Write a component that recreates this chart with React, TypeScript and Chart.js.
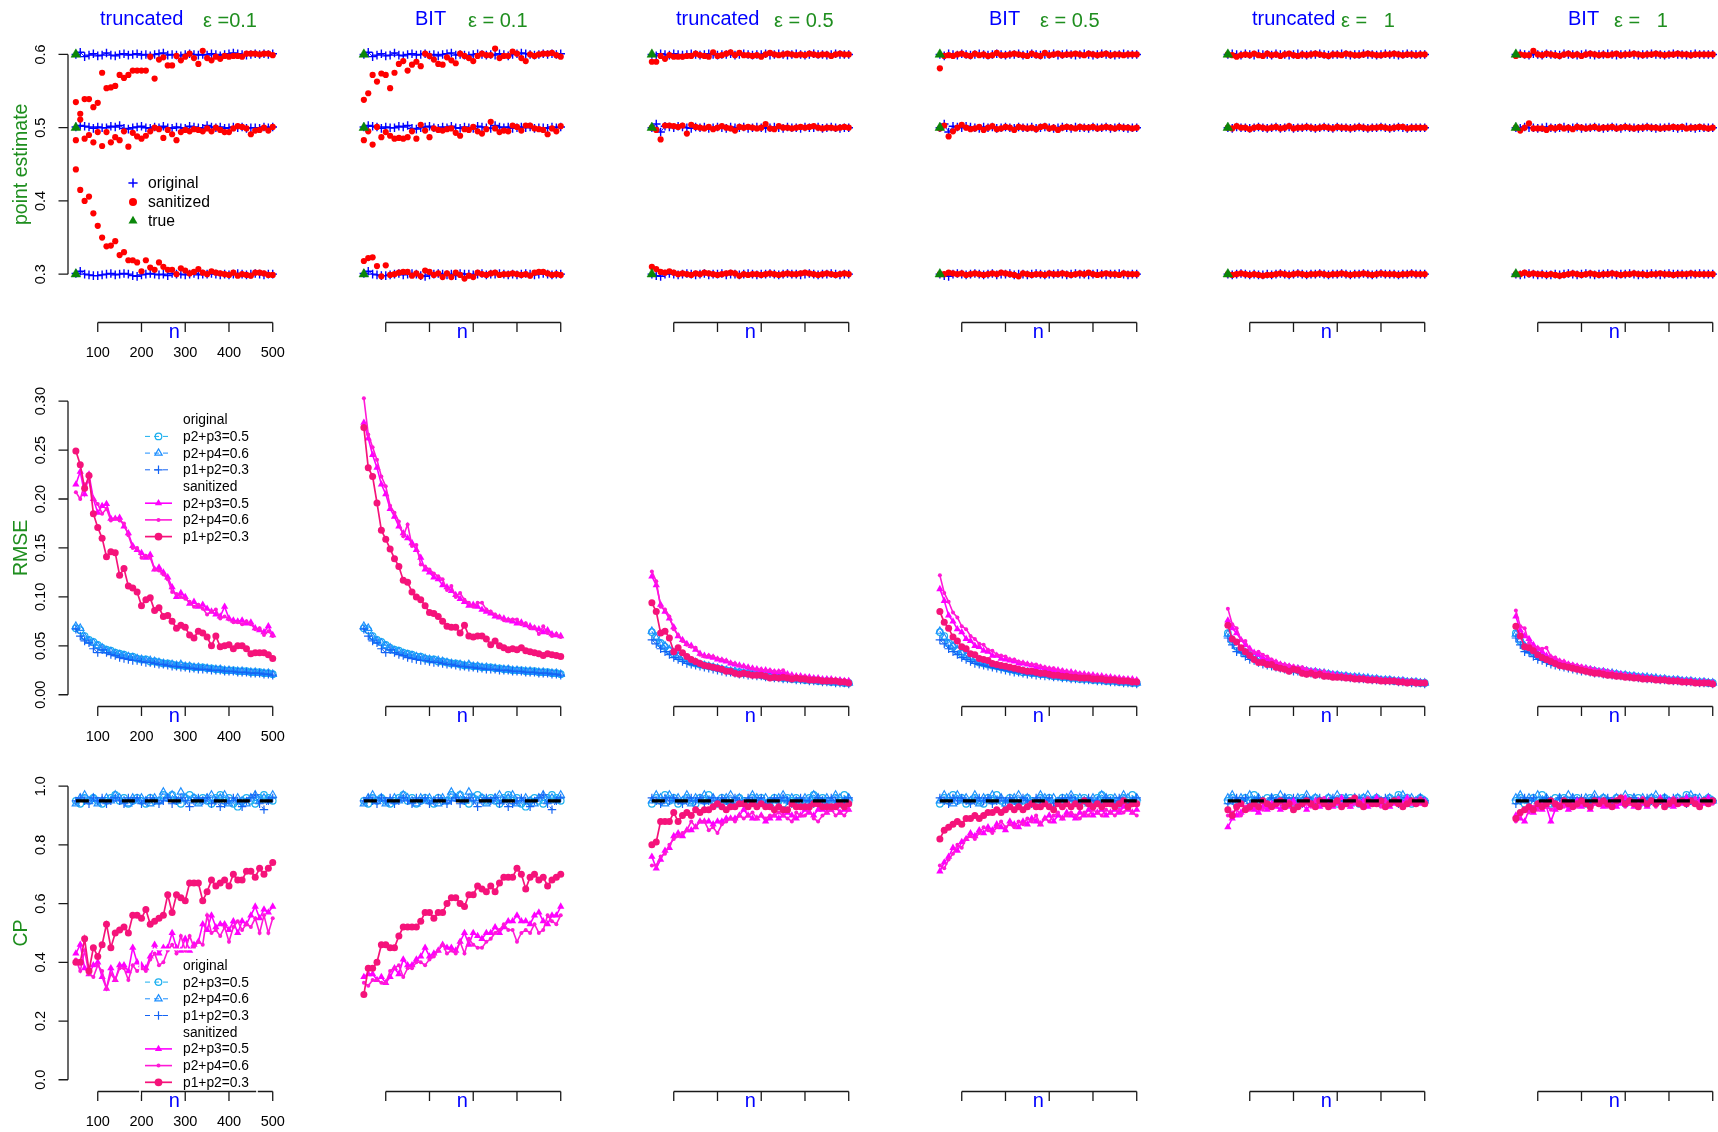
import React, { useEffect, useRef } from "react";
import { Chart, registerables } from "chart.js";
Chart.register(...registerables);

// ---------------- categories / ticks ----------------
const nValues = [50, 60, 70, 80, 90, 100, 110, 120, 130, 140, 150, 160, 170, 180, 190, 200, 210, 220, 230, 240, 250, 260, 270, 280, 290, 300, 310, 320, 330, 340, 350, 360, 370, 380, 390, 400, 410, 420, 430, 440, 450, 460, 470, 480, 490, 500];
const xTickValues = [100, 200, 300, 400, 500];
const xTickLabels = ["100", "200", "300", "400", "500"];
const peTickValues = [0.3, 0.4, 0.5, 0.6];
const peTickLabels = ["0.3", "0.4", "0.5", "0.6"];
const rmseTickValues = [0, 0.05, 0.1, 0.15, 0.2, 0.25, 0.3];
const rmseTickLabels = ["0.00", "0.05", "0.10", "0.15", "0.20", "0.25", "0.30"];
const cpTickValues = [0, 0.2, 0.4, 0.6, 0.8, 1.0];
const cpTickLabels = ["0.0", "0.2", "0.4", "0.6", "0.8", "1.0"];
const methodLabels = ["truncated", "BIT", "truncated", "BIT", "truncated", "BIT"];
const epsLabels = ["\u03b5 =0.1", "\u03b5 = 0.1", "\u03b5 = 0.5", "\u03b5 = 0.5", "\u03b5 =   1", "\u03b5 =   1"];
const rowTitles = ["point estimate", "RMSE", "CP"];
const peLegendLabels = ["original", "sanitized", "true"];
const groupHeaders = ["original", "sanitized"];
const seriesLabels = ["p2+p3=0.5", "p2+p4=0.6", "p1+p2=0.3"];
const trueN = [50, 50, 50];
const trueValues = [0.3, 0.5, 0.6];
const nominalN = [50, 500];
const nominalCP = [0.95, 0.95];

// ---------------- point estimates: original (shared per epsilon) ----------------
const pe01_o6 = [.600,.603,.597,.599,.601,.598,.599,.602,.599,.598,
  .600,.601,.599,.600,.601,.599,.600,.598,.600,.601,
  .602,.599,.600,.599,.598,.600,.601,.600,.599,.600,
  .599,.601,.600,.598,.600,.601,.602,.601,.600,.599,
  .600,.601,.600,.601,.600,.601];
const pe01_o5 = [.501,.503,.502,.501,.499,.501,.500,.500,.502,.501,
  .503,.499,.498,.500,.501,.502,.500,.499,.501,.500,
  .502,.500,.499,.501,.500,.499,.502,.501,.500,.499,
  .503,.501,.500,.501,.499,.500,.501,.500,.501,.499,
  .500,.500,.499,.501,.500,.501];
const pe01_o3 = [.301,.304,.300,.299,.298,.298,.299,.300,.301,.299,
  .300,.301,.300,.298,.297,.299,.300,.301,.300,.299,
  .300,.298,.301,.300,.300,.299,.300,.301,.299,.300,
  .300,.301,.300,.299,.300,.299,.300,.301,.300,.299,
  .300,.301,.300,.299,.300,.300];
const pe05_o6 = [.600,.598,.601,.600,.599,.601,.600,.599,.600,.601,
  .600,.599,.600,.601,.600,.599,.600,.600,.601,.599,
  .600,.601,.600,.599,.600,.600,.601,.599,.600,.601,
  .600,.599,.600,.601,.600,.599,.600,.601,.600,.600,
  .599,.600,.601,.600,.600,.600];
const pe05_o5 = [.500,.505,.494,.502,.501,.500,.502,.501,.500,.499,
  .501,.500,.501,.499,.500,.501,.500,.499,.501,.500,
  .500,.501,.499,.500,.501,.500,.499,.500,.501,.500,
  .499,.501,.500,.500,.499,.501,.500,.500,.501,.499,
  .500,.501,.500,.499,.500,.500];
const pe05_o3 = [.300,.298,.297,.300,.301,.300,.299,.300,.301,.300,
  .299,.300,.301,.299,.300,.300,.301,.299,.300,.300,
  .299,.300,.301,.300,.299,.300,.300,.301,.300,.299,
  .300,.301,.300,.300,.299,.300,.301,.300,.299,.300,
  .300,.301,.300,.299,.300,.300];
const pe1_o6 = [.600,.601,.600,.599,.601,.600,.599,.601,.600,.600,
  .599,.601,.600,.600,.599,.600,.601,.600,.599,.600,
  .600,.601,.600,.599,.600,.600,.601,.600,.599,.600,
  .600,.601,.600,.600,.599,.600,.601,.600,.600,.599,
  .600,.601,.600,.600,.600,.600];
const pe1_o5 = [.500,.499,.501,.500,.500,.499,.500,.501,.500,.499,
  .500,.501,.499,.500,.501,.499,.500,.500,.501,.500,
  .499,.500,.501,.500,.499,.501,.500,.500,.499,.500,
  .501,.500,.499,.500,.500,.501,.500,.499,.500,.501,
  .500,.499,.500,.500,.500,.500];
const pe1_o3 = [.300,.299,.300,.301,.300,.299,.300,.299,.299,.300,
  .299,.300,.301,.300,.299,.300,.301,.300,.299,.300,
  .300,.301,.300,.299,.300,.300,.301,.300,.299,.300,
  .300,.301,.300,.299,.300,.301,.300,.300,.300,.299,
  .300,.300,.301,.300,.300,.300];

// ---------------- point estimates: sanitized ----------------
const peT01_s6 = [.535,.519,.539,.539,.528,.534,.575,.554,.555,.557,
  .572,.568,.572,.578,.578,.578,.578,.597,.567,.593,
  .596,.585,.585,.598,.592,.597,.601,.595,.587,.605,
  .595,.592,.597,.594,.598,.597,.598,.598,.597,.601,
  .601,.601,.600,.601,.601,.599];
const peT01_s5 = [.483,.511,.485,.490,.480,.494,.475,.494,.480,.487,
  .483,.495,.474,.493,.488,.485,.489,.495,.500,.498,
  .486,.497,.491,.483,.494,.497,.495,.498,.497,.495,
  .499,.495,.500,.497,.494,.494,.499,.502,.501,.499,
  .491,.496,.497,.500,.496,.501];
const peT01_s3 = [.443,.415,.400,.406,.383,.366,.350,.338,.339,.345,
  .326,.330,.319,.319,.316,.304,.319,.309,.306,.316,
  .310,.306,.306,.300,.308,.305,.301,.303,.307,.302,
  .300,.304,.302,.301,.300,.299,.302,.298,.300,.299,
  .298,.302,.302,.301,.299,.299];
const peB01_s6 = [.538,.547,.572,.563,.574,.572,.554,.575,.587,.591,
  .578,.586,.590,.584,.601,.598,.593,.587,.586,.596,
  .592,.588,.601,.598,.595,.591,.598,.601,.599,.599,
  .608,.595,.598,.598,.604,.601,.595,.591,.600,.598,
  .600,.601,.601,.602,.599,.597];
const peB01_s5 = [.483,.495,.477,.501,.487,.494,.489,.485,.486,.485,
  .487,.495,.485,.504,.496,.487,.499,.497,.496,.498,
  .499,.493,.489,.498,.497,.501,.495,.492,.498,.508,
  .499,.494,.496,.495,.503,.501,.496,.503,.503,.499,
  .498,.497,.491,.499,.495,.502];
const peB01_s3 = [.318,.322,.323,.311,.297,.312,.299,.300,.302,.303,
  .303,.298,.301,.297,.305,.303,.299,.301,.296,.301,
  .296,.302,.299,.294,.298,.296,.302,.300,.299,.301,
  .302,.299,.300,.300,.301,.300,.299,.300,.298,.302,
  .303,.303,.301,.299,.300,.299];
const peT05_s6 = [.590,.590,.598,.594,.599,.597,.597,.597,.598,.598,
  .601,.599,.598,.597,.603,.598,.599,.601,.603,.599,
  .602,.599,.599,.598,.599,.597,.600,.602,.600,.599,
  .600,.601,.600,.599,.600,.599,.601,.600,.599,.600,
  .600,.598,.600,.601,.600,.600];
const peT05_s5 = [.500,.497,.484,.503,.503,.502,.501,.503,.492,.504,
  .501,.500,.499,.501,.498,.500,.502,.500,.499,.496,
  .501,.500,.501,.500,.499,.500,.505,.499,.498,.502,
  .500,.500,.499,.500,.501,.500,.501,.502,.500,.499,
  .500,.500,.499,.500,.501,.500];
const peT05_s3 = [.310,.307,.303,.302,.304,.302,.300,.301,.300,.299,
  .301,.300,.302,.301,.300,.299,.300,.301,.302,.301,
  .298,.300,.299,.300,.300,.299,.300,.301,.300,.299,
  .300,.301,.300,.300,.301,.302,.301,.300,.299,.300,
  .301,.300,.299,.300,.301,.300];
const peB05_s6 = [.581,.598,.599,.598,.600,.601,.599,.598,.601,.599,
  .600,.598,.599,.602,.599,.599,.600,.601,.600,.599,
  .598,.601,.599,.598,.602,.599,.600,.601,.599,.600,
  .600,.601,.600,.599,.601,.600,.599,.600,.601,.599,
  .600,.600,.599,.600,.600,.600];
const peB05_s5 = [.499,.503,.488,.495,.500,.504,.500,.498,.499,.501,
  .497,.500,.502,.498,.499,.501,.500,.497,.501,.500,
  .499,.500,.498,.501,.502,.499,.500,.497,.500,.501,
  .500,.499,.501,.500,.500,.501,.499,.500,.501,.500,
  .499,.501,.500,.500,.499,.500];
const peB05_s3 = [.300,.300,.302,.301,.300,.301,.299,.300,.301,.300,
  .299,.300,.301,.300,.302,.301,.300,.299,.297,.301,
  .300,.299,.300,.300,.299,.301,.300,.300,.301,.300,
  .299,.300,.301,.300,.302,.300,.299,.300,.301,.300,
  .300,.299,.301,.300,.300,.300];
const peT1_s6 = [.600,.599,.597,.599,.600,.599,.601,.599,.598,.601,
  .599,.600,.598,.600,.601,.599,.598,.600,.599,.600,
  .601,.600,.599,.598,.600,.600,.599,.601,.600,.599,
  .599,.600,.601,.600,.599,.599,.600,.600,.601,.600,
  .599,.600,.600,.599,.600,.600];
const peT1_s5 = [.500,.499,.502,.500,.500,.498,.500,.501,.500,.499,
  .500,.501,.499,.500,.502,.499,.500,.500,.501,.500,
  .499,.500,.501,.500,.499,.501,.500,.500,.499,.500,
  .501,.500,.499,.500,.500,.501,.500,.499,.500,.501,
  .501,.499,.500,.500,.500,.500];
const peT1_s3 = [.300,.299,.300,.301,.300,.299,.300,.299,.298,.299,
  .299,.300,.301,.300,.299,.300,.301,.300,.299,.300,
  .300,.301,.300,.299,.300,.300,.301,.300,.299,.300,
  .300,.301,.300,.299,.300,.301,.300,.300,.300,.299,
  .300,.300,.301,.300,.300,.300];
const peB1_s6 = [.598,.600,.599,.599,.605,.600,.599,.601,.600,.599,
  .598,.600,.601,.599,.600,.598,.600,.601,.600,.599,
  .600,.599,.600,.601,.599,.600,.600,.601,.600,.599,
  .600,.600,.601,.600,.599,.600,.600,.601,.600,.600,
  .599,.600,.600,.600,.600,.600];
const peB1_s5 = [.500,.496,.500,.506,.499,.499,.499,.497,.500,.499,
  .501,.499,.500,.498,.501,.500,.499,.500,.501,.499,
  .500,.500,.501,.499,.500,.501,.500,.499,.500,.500,
  .501,.500,.500,.499,.500,.500,.501,.500,.501,.499,
  .500,.500,.501,.500,.499,.500];
const peB1_s3 = [.300,.300,.302,.300,.301,.300,.300,.299,.300,.299,
  .298,.299,.300,.301,.300,.299,.300,.301,.300,.299,
  .300,.300,.301,.300,.299,.300,.300,.301,.300,.300,
  .299,.300,.300,.301,.300,.300,.299,.300,.300,.300,
  .301,.300,.300,.300,.300,.300];

// ---------------- RMSE: original (shared per epsilon) ----------------
const rmse01_o23 = [.068,.066,.060,.056,.054,.051,.048,.046,.045,.043,
  .042,.041,.039,.039,.037,.036,.036,.034,.034,.033,
  .032,.032,.031,.030,.030,.029,.029,.028,.028,.028,
  .027,.027,.026,.026,.025,.025,.025,.024,.024,.024,
  .023,.023,.023,.022,.022,.021];
const rmse01_o24 = [.070,.068,.059,.055,.053,.050,.048,.045,.044,.042,
  .041,.040,.039,.038,.037,.036,.035,.035,.034,.033,
  .032,.031,.031,.030,.031,.029,.029,.028,.028,.027,
  .027,.026,.026,.026,.025,.025,.024,.024,.024,.023,
  .023,.023,.022,.022,.022,.021];
const rmse01_o13 = [.067,.060,.055,.053,.047,.043,.046,.043,.041,.040,
  .038,.037,.036,.035,.035,.034,.033,.033,.032,.031,
  .031,.030,.029,.029,.028,.028,.027,.027,.026,.026,
  .026,.025,.025,.025,.024,.024,.024,.023,.023,.023,
  .022,.022,.022,.021,.021,.020];
const rmse05_o23 = [.064,.060,.053,.049,.045,.042,.039,.037,.035,.033,
  .032,.031,.030,.029,.028,.027,.026,.025,.024,.023,
  .023,.022,.022,.021,.021,.020,.019,.019,.018,.018,
  .017,.017,.016,.016,.016,.015,.015,.015,.014,.014,
  .014,.013,.013,.013,.012,.012];
const rmse05_o24 = [.065,.058,.052,.050,.046,.043,.040,.038,.036,.034,
  .033,.031,.030,.029,.028,.027,.026,.025,.024,.024,
  .023,.022,.022,.021,.020,.020,.019,.019,.018,.018,
  .017,.017,.017,.016,.016,.015,.015,.015,.014,.014,
  .014,.013,.013,.013,.012,.012];
const rmse05_o13 = [.056,.052,.047,.044,.041,.038,.036,.034,.032,.031,
  .030,.029,.028,.027,.026,.025,.024,.023,.023,.022,
  .021,.021,.020,.020,.019,.019,.018,.018,.017,.017,
  .016,.016,.016,.015,.015,.015,.014,.014,.014,.013,
  .013,.013,.012,.012,.012,.011];
const rmse1_o23 = [.063,.055,.049,.046,.043,.040,.038,.036,.034,.033,
  .031,.030,.029,.028,.027,.026,.025,.025,.024,.023,
  .023,.022,.021,.021,.020,.020,.019,.019,.018,.018,
  .017,.017,.016,.016,.016,.015,.015,.015,.014,.014,
  .014,.013,.013,.013,.012,.012];
const rmse1_o24 = [.062,.056,.050,.045,.043,.041,.038,.036,.034,.032,
  .031,.030,.029,.028,.027,.026,.026,.025,.024,.023,
  .023,.022,.022,.021,.020,.020,.019,.019,.018,.018,
  .018,.017,.017,.016,.016,.015,.015,.015,.014,.014,
  .014,.013,.013,.013,.012,.012];
const rmse1_o13 = [.058,.051,.044,.043,.039,.036,.035,.033,.031,.030,
  .029,.028,.027,.026,.025,.024,.024,.023,.022,.022,
  .021,.021,.020,.020,.019,.019,.018,.018,.017,.017,
  .016,.016,.016,.015,.015,.015,.014,.014,.014,.013,
  .013,.013,.012,.012,.012,.011];

// ---------------- RMSE: sanitized ----------------
const rmseT01_s23 = [.215,.228,.205,.225,.200,.186,.193,.195,.180,.180,
  .181,.172,.165,.152,.148,.145,.140,.143,.128,.130,
  .125,.120,.110,.100,.104,.100,.093,.095,.090,.092,
  .088,.085,.082,.080,.090,.078,.076,.075,.076,.073,
  .074,.068,.066,.064,.070,.061];
const rmseT01_s24 = [.207,.200,.215,.218,.200,.195,.185,.190,.178,.180,
  .178,.175,.163,.150,.150,.140,.142,.140,.128,.127,
  .123,.118,.105,.103,.100,.098,.095,.090,.092,.088,
  .082,.085,.087,.078,.080,.077,.074,.074,.072,.075,
  .072,.067,.068,.061,.065,.060];
const rmseT01_s12 = [.249,.235,.211,.224,.185,.171,.160,.141,.146,.145,
  .122,.129,.111,.109,.105,.091,.097,.099,.086,.089,
  .080,.081,.075,.068,.071,.069,.061,.058,.065,.063,
  .059,.050,.060,.049,.050,.051,.047,.050,.050,.047,
  .042,.043,.043,.043,.041,.037];
const rmseB01_s23 = [.278,.262,.245,.232,.215,.205,.190,.182,.172,.165,
  .160,.155,.148,.140,.128,.125,.120,.118,.112,.110,
  .106,.102,.098,.095,.091,.092,.090,.087,.085,.083,
  .080,.079,.078,.076,.075,.073,.074,.071,.070,.068,
  .067,.064,.066,.062,.061,.060];
const rmseB01_s24 = [.303,.266,.253,.240,.223,.213,.193,.186,.177,.162,
  .174,.152,.153,.133,.131,.128,.124,.121,.118,.107,
  .111,.100,.104,.097,.094,.090,.094,.094,.087,.085,
  .082,.080,.076,.077,.077,.077,.072,.073,.068,.069,
  .062,.070,.063,.060,.062,.059];
const rmseB01_s12 = [.273,.232,.223,.196,.168,.159,.149,.139,.131,.117,
  .115,.105,.100,.097,.091,.084,.083,.080,.075,.070,
  .069,.069,.063,.071,.060,.059,.060,.060,.057,.051,
  .055,.050,.048,.046,.047,.046,.048,.045,.044,.043,
  .042,.040,.042,.041,.040,.039];
const rmseT05_s23 = [.121,.112,.092,.085,.078,.069,.060,.056,.052,.050,
  .046,.042,.040,.039,.038,.036,.035,.034,.032,.031,
  .030,.029,.028,.027,.026,.025,.025,.024,.023,.023,
  .022,.021,.020,.019,.019,.018,.018,.017,.017,.016,
  .016,.016,.015,.015,.014,.014];
const rmseT05_s24 = [.126,.116,.090,.087,.080,.067,.061,.055,.051,.049,
  .048,.041,.039,.040,.039,.037,.036,.035,.033,.032,
  .030,.029,.028,.027,.026,.026,.025,.025,.024,.024,
  .025,.021,.020,.019,.019,.019,.018,.017,.017,.016,
  .016,.016,.015,.015,.015,.014];
const rmseT05_s12 = [.094,.085,.063,.065,.058,.044,.048,.043,.039,.036,
  .034,.032,.030,.029,.028,.027,.026,.024,.024,.022,
  .021,.022,.021,.020,.020,.020,.019,.017,.018,.017,
  .018,.017,.016,.017,.016,.016,.015,.015,.015,.014,
  .014,.014,.014,.013,.013,.012];
const rmseB05_s23 = [.108,.096,.081,.075,.067,.064,.057,.055,.050,.049,
  .045,.044,.040,.040,.037,.036,.035,.034,.032,.032,
  .031,.030,.028,.028,.027,.026,.025,.025,.024,.023,
  .023,.022,.021,.021,.020,.020,.019,.019,.018,.018,
  .017,.017,.016,.016,.016,.015];
const rmseB05_s24 = [.122,.104,.095,.084,.079,.070,.067,.060,.057,.052,
  .051,.046,.045,.041,.040,.039,.036,.036,.034,.033,
  .032,.031,.031,.029,.028,.027,.027,.025,.025,.024,
  .023,.023,.022,.021,.021,.020,.020,.019,.019,.018,
  .018,.017,.017,.016,.016,.015];
const rmseB05_s12 = [.085,.074,.068,.059,.055,.049,.047,.042,.041,.037,
  .036,.035,.032,.031,.030,.029,.028,.027,.026,.025,
  .024,.024,.023,.022,.022,.021,.020,.020,.019,.019,
  .018,.018,.017,.017,.017,.016,.016,.016,.015,.015,
  .015,.014,.014,.014,.013,.013];
const rmseT1_s23 = [.076,.068,.063,.056,.051,.047,.043,.041,.038,.036,
  .034,.033,.031,.030,.029,.028,.027,.026,.025,.024,
  .024,.023,.022,.021,.021,.020,.019,.019,.018,.018,
  .017,.017,.016,.016,.016,.015,.015,.015,.014,.014,
  .014,.013,.013,.013,.012,.012];
const rmseT1_s24 = [.088,.072,.068,.056,.055,.046,.043,.044,.041,.039,
  .036,.034,.032,.031,.030,.029,.028,.028,.026,.025,
  .024,.023,.024,.022,.021,.020,.020,.019,.019,.018,
  .018,.017,.017,.016,.016,.016,.015,.015,.015,.014,
  .014,.014,.013,.013,.013,.012];
const rmseT1_s12 = [.071,.057,.054,.048,.044,.040,.036,.033,.033,.031,
  .031,.028,.027,.026,.024,.026,.025,.022,.021,.022,
  .020,.021,.019,.019,.018,.018,.018,.017,.017,.016,
  .016,.016,.015,.015,.015,.014,.014,.014,.014,.013,
  .013,.012,.013,.012,.012,.012];
const rmseB1_s23 = [.080,.066,.060,.057,.051,.047,.044,.040,.038,.036,
  .034,.033,.031,.030,.029,.028,.027,.026,.025,.024,
  .024,.023,.022,.021,.021,.020,.019,.019,.018,.018,
  .017,.017,.016,.016,.016,.015,.015,.015,.014,.014,
  .014,.013,.013,.013,.012,.012];
const rmseB1_s24 = [.086,.070,.068,.053,.049,.048,.047,.048,.039,.038,
  .035,.034,.032,.031,.030,.029,.028,.027,.026,.025,
  .024,.024,.023,.022,.021,.021,.020,.019,.019,.018,
  .018,.017,.017,.016,.016,.016,.015,.015,.014,.014,
  .014,.013,.013,.013,.012,.012];
const rmseB1_s12 = [.070,.060,.049,.048,.045,.041,.038,.036,.034,.032,
  .030,.029,.028,.027,.026,.025,.024,.023,.022,.022,
  .021,.020,.020,.019,.019,.018,.018,.017,.017,.016,
  .016,.016,.015,.015,.015,.014,.014,.014,.013,.013,
  .013,.012,.012,.012,.012,.011];

// ---------------- CP: original (shared per epsilon) ----------------
const cp01_o23 = [.95,.94,.96,.95,.96,.95,.94,.95,.96,.97,
  .95,.96,.94,.95,.96,.95,.94,.96,.95,.95,
  .97,.96,.97,.95,.94,.96,.97,.96,.95,.96,
  .95,.94,.96,.97,.95,.96,.94,.93,.95,.96,
  .95,.94,.96,.97,.96,.95];
const cp01_o24 = [.94,.96,.97,.95,.96,.94,.95,.96,.95,.97,
  .96,.95,.94,.96,.95,.96,.95,.94,.96,.95,
  .98,.96,.97,.95,.98,.96,.95,.96,.94,.95,
  .96,.97,.95,.96,.97,.94,.95,.96,.95,.94,
  .96,.97,.95,.96,.95,.97];
const cp01_o13 = [.95,.96,.95,.94,.96,.95,.96,.94,.95,.96,
  .95,.94,.96,.95,.96,.94,.95,.96,.95,.94,
  .95,.96,.94,.95,.96,.95,.93,.95,.96,.95,
  .96,.94,.95,.93,.94,.95,.96,.95,.93,.95,
  .96,.97,.94,.92,.95,.96];
const cp05_o23 = [.94,.96,.95,.97,.95,.96,.94,.95,.96,.95,
  .94,.96,.95,.97,.95,.94,.96,.95,.94,.95,
  .96,.95,.94,.96,.95,.96,.94,.95,.96,.95,
  .94,.96,.95,.96,.95,.94,.96,.97,.95,.96,
  .95,.94,.96,.95,.97,.95];
const cp05_o24 = [.95,.97,.96,.94,.97,.95,.96,.95,.97,.94,
  .96,.95,.97,.95,.96,.94,.95,.96,.97,.95,
  .96,.94,.95,.97,.96,.95,.96,.94,.95,.96,
  .97,.95,.96,.95,.94,.96,.95,.97,.96,.95,
  .96,.95,.97,.96,.95,.96];
const cp05_o13 = [.96,.95,.94,.96,.95,.96,.95,.94,.95,.96,
  .95,.96,.94,.95,.96,.95,.96,.95,.94,.96,
  .95,.94,.96,.95,.95,.96,.94,.95,.96,.95,
  .96,.95,.94,.95,.96,.95,.95,.94,.96,.95,
  .95,.96,.95,.94,.95,.96];
const cp1_o23 = [.95,.96,.94,.95,.96,.95,.97,.95,.94,.96,
  .95,.96,.95,.94,.96,.95,.94,.96,.95,.95,
  .96,.94,.95,.96,.95,.94,.96,.95,.96,.95,
  .94,.96,.95,.95,.96,.94,.95,.96,.95,.97,
  .95,.96,.94,.95,.96,.95];
const cp1_o24 = [.96,.97,.95,.96,.94,.97,.95,.96,.95,.94,
  .96,.95,.97,.96,.95,.94,.96,.95,.97,.95,
  .96,.95,.94,.96,.95,.97,.95,.96,.94,.96,
  .95,.96,.97,.95,.96,.95,.94,.96,.95,.96,
  .97,.95,.96,.95,.96,.95];
const cp1_o13 = [.94,.95,.96,.95,.96,.94,.95,.96,.95,.94,
  .96,.95,.94,.96,.95,.96,.95,.94,.96,.95,
  .95,.96,.95,.94,.96,.95,.95,.96,.94,.95,
  .96,.95,.94,.95,.96,.95,.96,.95,.95,.94,
  .95,.96,.95,.95,.96,.95];

// ---------------- CP: sanitized ----------------
const cpT01_s23 = [.43,.46,.38,.36,.39,.40,.35,.31,.38,.34,
  .39,.39,.37,.45,.40,.39,.38,.42,.46,.43,
  .45,.45,.50,.45,.44,.48,.44,.46,.47,.53,
  .51,.56,.52,.53,.53,.51,.54,.50,.54,.53,
  .56,.59,.55,.58,.57,.59];
const cpT01_s24 = [.41,.37,.44,.36,.35,.39,.37,.31,.36,.34,
  .38,.38,.34,.39,.37,.38,.37,.41,.43,.39,
  .40,.44,.46,.43,.49,.44,.49,.45,.47,.46,
  .56,.50,.51,.49,.52,.47,.52,.54,.51,.53,
  .52,.55,.50,.56,.50,.55];
const cpT01_s12 = [.40,.40,.48,.37,.45,.42,.46,.53,.45,.50,
  .51,.52,.50,.56,.56,.55,.58,.53,.54,.55,
  .56,.63,.57,.63,.62,.61,.67,.67,.67,.61,
  .64,.68,.66,.67,.68,.66,.70,.68,.68,.71,
  .71,.69,.72,.70,.72,.74];
const cpB01_s23 = [.35,.36,.36,.34,.35,.33,.35,.38,.36,.41,
  .39,.39,.41,.42,.45,.42,.43,.44,.46,.45,
  .45,.44,.47,.50,.46,.50,.49,.48,.50,.50,
  .52,.50,.52,.54,.54,.56,.54,.54,.53,.56,
  .57,.54,.53,.56,.56,.59];
const cpB01_s24 = [.33,.32,.34,.34,.33,.33,.37,.38,.39,.35,
  .38,.38,.40,.40,.39,.41,.42,.44,.46,.43,
  .44,.43,.47,.43,.48,.46,.45,.45,.47,.48,
  .50,.51,.53,.51,.51,.47,.50,.51,.50,.53,
  .50,.51,.56,.54,.53,.56];
const cpB01_s12 = [.29,.38,.38,.40,.46,.46,.45,.45,.49,.52,
  .52,.52,.52,.54,.57,.57,.55,.57,.57,.60,
  .62,.62,.60,.59,.63,.63,.66,.65,.64,.66,
  .64,.67,.69,.69,.69,.72,.70,.65,.69,.70,
  .68,.69,.66,.68,.69,.70];
const cpT05_s23 = [.76,.72,.75,.78,.79,.83,.84,.83,.85,.85,
  .86,.88,.88,.88,.87,.88,.88,.89,.89,.89,
  .90,.92,.90,.89,.89,.90,.88,.89,.90,.89,
  .90,.91,.90,.89,.90,.92,.91,.90,.92,.92,
  .91,.92,.93,.91,.92,.92];
const cpT05_s24 = [.73,.73,.76,.77,.80,.82,.83,.84,.85,.88,
  .86,.88,.88,.85,.86,.84,.87,.88,.89,.88,
  .90,.89,.90,.91,.89,.90,.89,.90,.90,.91,
  .90,.89,.88,.91,.90,.90,.92,.89,.88,.90,
  .91,.92,.90,.91,.90,.92];
const cpT05_s12 = [.80,.81,.88,.88,.88,.91,.88,.90,.91,.90,
  .92,.91,.92,.92,.93,.94,.93,.92,.93,.93,
  .94,.94,.93,.94,.93,.94,.93,.93,.92,.93,
  .92,.92,.94,.93,.93,.93,.93,.94,.94,.93,
  .93,.93,.93,.94,.93,.94];
const cpB05_s23 = [.71,.74,.76,.79,.78,.81,.82,.84,.83,.85,
  .84,.86,.85,.87,.86,.85,.88,.87,.86,.88,
  .87,.89,.88,.87,.89,.90,.88,.90,.89,.91,
  .90,.89,.91,.90,.92,.90,.91,.92,.90,.91,
  .92,.91,.93,.92,.91,.92];
const cpB05_s24 = [.73,.72,.75,.77,.80,.79,.82,.83,.82,.84,
  .86,.85,.84,.86,.88,.86,.87,.86,.88,.87,
  .89,.88,.90,.87,.89,.88,.90,.91,.89,.90,
  .91,.90,.89,.91,.90,.92,.91,.90,.92,.91,
  .90,.92,.91,.93,.91,.90];
const cpB05_s12 = [.82,.85,.86,.87,.88,.87,.89,.89,.90,.89,
  .90,.91,.91,.92,.91,.92,.93,.92,.93,.92,
  .93,.94,.93,.93,.94,.93,.92,.94,.93,.94,
  .93,.94,.93,.95,.94,.93,.94,.93,.94,.94,
  .93,.94,.95,.93,.94,.94];
const cpT1_s23 = [.86,.89,.90,.91,.92,.93,.92,.91,.93,.92,
  .94,.93,.92,.94,.93,.95,.93,.94,.92,.94,
  .95,.93,.94,.95,.93,.94,.96,.94,.93,.95,
  .94,.95,.93,.94,.96,.94,.95,.93,.94,.95,
  .94,.96,.94,.95,.94,.95];
const cpT1_s24 = [.90,.91,.92,.90,.93,.92,.94,.93,.92,.94,
  .93,.95,.94,.93,.95,.94,.93,.95,.94,.93,
  .95,.94,.96,.93,.94,.95,.94,.95,.93,.94,
  .95,.94,.96,.95,.94,.93,.95,.94,.95,.96,
  .94,.95,.94,.95,.96,.95];
const cpT1_s12 = [.92,.90,.93,.94,.92,.93,.94,.93,.95,.94,
  .93,.94,.95,.93,.94,.92,.93,.94,.95,.94,
  .93,.95,.94,.93,.94,.95,.93,.94,.95,.96,
  .94,.93,.95,.94,.94,.95,.93,.94,.95,.94,
  .93,.94,.95,.94,.95,.94];
const cpB1_s23 = [.90,.89,.88,.92,.91,.93,.92,.93,.88,.92,
  .93,.94,.92,.93,.95,.93,.94,.92,.94,.95,
  .93,.94,.95,.93,.94,.96,.94,.93,.95,.94,
  .93,.95,.94,.96,.94,.95,.93,.95,.94,.96,
  .95,.94,.95,.94,.96,.95];
const cpB1_s24 = [.88,.90,.92,.91,.93,.92,.94,.93,.92,.93,
  .94,.93,.95,.94,.93,.94,.95,.93,.94,.95,
  .94,.93,.95,.94,.95,.93,.94,.95,.94,.96,
  .94,.95,.93,.95,.94,.95,.96,.94,.95,.94,
  .95,.96,.94,.95,.95,.94];
const cpB1_s12 = [.89,.91,.92,.93,.92,.94,.93,.94,.95,.94,
  .93,.95,.94,.93,.94,.95,.94,.93,.95,.94,
  .95,.94,.93,.95,.96,.94,.95,.94,.93,.95,
  .94,.95,.94,.95,.93,.94,.95,.94,.95,.94,
  .95,.94,.93,.95,.94,.95];

// ---------------- panel lookups (order of series: p2+p3, p2+p4, p1+p2) ----------------
const peOrigByCol = [
  [pe01_o6, pe01_o5, pe01_o3], [pe01_o6, pe01_o5, pe01_o3],
  [pe05_o6, pe05_o5, pe05_o3], [pe05_o6, pe05_o5, pe05_o3],
  [pe1_o6, pe1_o5, pe1_o3], [pe1_o6, pe1_o5, pe1_o3],
];
const peSanByCol = [
  [peT01_s6, peT01_s5, peT01_s3], [peB01_s6, peB01_s5, peB01_s3],
  [peT05_s6, peT05_s5, peT05_s3], [peB05_s6, peB05_s5, peB05_s3],
  [peT1_s6, peT1_s5, peT1_s3], [peB1_s6, peB1_s5, peB1_s3],
];
const rmseOrigByCol = [
  [rmse01_o23, rmse01_o24, rmse01_o13], [rmse01_o23, rmse01_o24, rmse01_o13],
  [rmse05_o23, rmse05_o24, rmse05_o13], [rmse05_o23, rmse05_o24, rmse05_o13],
  [rmse1_o23, rmse1_o24, rmse1_o13], [rmse1_o23, rmse1_o24, rmse1_o13],
];
const rmseSanByCol = [
  [rmseT01_s23, rmseT01_s24, rmseT01_s12], [rmseB01_s23, rmseB01_s24, rmseB01_s12],
  [rmseT05_s23, rmseT05_s24, rmseT05_s12], [rmseB05_s23, rmseB05_s24, rmseB05_s12],
  [rmseT1_s23, rmseT1_s24, rmseT1_s12], [rmseB1_s23, rmseB1_s24, rmseB1_s12],
];
const cpOrigByCol = [
  [cp01_o23, cp01_o24, cp01_o13], [cp01_o23, cp01_o24, cp01_o13],
  [cp05_o23, cp05_o24, cp05_o13], [cp05_o23, cp05_o24, cp05_o13],
  [cp1_o23, cp1_o24, cp1_o13], [cp1_o23, cp1_o24, cp1_o13],
];
const cpSanByCol = [
  [cpT01_s23, cpT01_s24, cpT01_s12], [cpB01_s23, cpB01_s24, cpB01_s12],
  [cpT05_s23, cpT05_s24, cpT05_s12], [cpB05_s23, cpB05_s24, cpB05_s12],
  [cpT1_s23, cpT1_s24, cpT1_s12], [cpB1_s23, cpB1_s24, cpB1_s12],
];

// ---------------- styles / layout ----------------
const FONT = '"Liberation Sans", Arial, Helvetica, sans-serif';
const BLUE = "#0000FF";
const RED = "#FF0000";
const GREEN_TXT = "#1E8E1E";
const GREEN_MARK = "#0A870A";
const AXIS = "#1a1a1a";

const origStyles = [
  { color: "#1AAFEF", shape: "circle", r: 3.3, fill: false, dash: [5, 4], lw: 1 },
  { color: "#1E8FFF", shape: "triangle", r: 4.2, fill: false, dash: [5, 4], lw: 1 },
  { color: "#1464F4", shape: "cross", r: 4.2, fill: false, dash: [5, 4], lw: 1 },
];
const sanStyles = [
  { color: "#FF00FF", shape: "triangle", r: 4.2, fill: true, dash: [], lw: 1.6 },
  { color: "#FF19D6", shape: "circle", r: 2.0, fill: true, dash: [], lw: 1.6 },
  { color: "#F5137A", shape: "circle", r: 3.5, fill: true, dash: [], lw: 1.7 },
];

const PANEL_W = 288;
const PANEL_H = 384;
const ROW_TOP = [0, 384, 769];
const PAD = { left: 68, right: 7.4, top: 4.5, bottom: 61.5 };
const Y_RANGE = [[0.234, 0.666], [-0.012, 0.312], [-0.04, 1.04]];
const TICK = 9.5;
const TITLE_X = [[100, 203], [127, 180], [100, 198], [125, 176], [100, 189], [128, 174]];
const LEGEND_TOP = [0, 35.7, 196.4];

function pts(xs: number[], ys: number[]) {
  return ys.map((y, i) => ({ x: xs[i], y }));
}

function drawMarker(ctx: CanvasRenderingContext2D, shape: string, x: number, y: number, r: number, color: string, fill: boolean, lw: number) {
  ctx.save();
  ctx.setLineDash([]);
  ctx.strokeStyle = color;
  ctx.fillStyle = color;
  ctx.lineWidth = lw;
  ctx.beginPath();
  if (shape === "circle") {
    ctx.arc(x, y, r, 0, Math.PI * 2);
  } else if (shape === "triangle") {
    const s = Math.sin(Math.PI / 3) * r;
    ctx.moveTo(x, y - r);
    ctx.lineTo(x + s, y + r / 2);
    ctx.lineTo(x - s, y + r / 2);
    ctx.closePath();
  } else {
    ctx.moveTo(x - r, y);
    ctx.lineTo(x + r, y);
    ctx.moveTo(x, y - r);
    ctx.lineTo(x, y + r);
  }
  if (fill && shape !== "cross") ctx.fill();
  else ctx.stroke();
  ctx.restore();
}

function lineDataset(values: number[], st: any) {
  return {
    data: pts(nValues, values),
    showLine: true,
    fill: false,
    tension: 0,
    borderColor: st.color,
    borderWidth: st.lw,
    borderDash: st.dash,
    pointStyle: st.shape,
    pointRadius: st.r,
    pointBorderColor: st.color,
    pointBackgroundColor: st.fill ? st.color : "rgba(0,0,0,0)",
    pointBorderWidth: st.fill ? 0 : 1.2,
  };
}

function buildDatasets(row: number, col: number) {
  if (row === 0) {
    const ds: any[] = [];
    ds.push({
      data: pts(trueN, trueValues), showLine: false, pointStyle: "triangle", pointRadius: 5.6,
      pointBackgroundColor: GREEN_MARK, pointBorderColor: GREEN_MARK, pointBorderWidth: 0.5,
    });
    peSanByCol[col].forEach((arr) => ds.push({
      data: pts(nValues, arr), showLine: false, pointStyle: "circle", pointRadius: 3.1,
      pointBackgroundColor: RED, pointBorderColor: RED, pointBorderWidth: 0,
    }));
    peOrigByCol[col].forEach((arr) => ds.push({
      data: pts(nValues, arr), showLine: true, fill: false, tension: 0, borderColor: BLUE, borderWidth: 0.9,
      pointStyle: "cross", pointRadius: 4.3, pointBorderColor: BLUE, pointBorderWidth: 1.4,
    }));
    return ds;
  }
  const orig = row === 1 ? rmseOrigByCol[col] : cpOrigByCol[col];
  const san = row === 1 ? rmseSanByCol[col] : cpSanByCol[col];
  const ds: any[] = [];
  if (row === 2) {
    ds.push({
      data: pts(nominalN, nominalCP), showLine: true, fill: false, borderColor: "#000000",
      borderWidth: 3.4, borderDash: [13, 10], pointRadius: 0,
    });
  }
  for (let i = 2; i >= 0; i--) ds.push(lineDataset(san[i], sanStyles[i]));
  for (let i = 2; i >= 0; i--) ds.push(lineDataset(orig[i], origStyles[i]));
  return ds;
}

function makePlugin(row: number, col: number) {
  return {
    id: "rdecor",
    afterDraw(chart: any) {
      const ctx: CanvasRenderingContext2D = chart.ctx;
      const xs = chart.scales.x;
      const ys = chart.scales.y;
      const a = chart.chartArea;
      ctx.save();
      ctx.setLineDash([]);
      ctx.strokeStyle = AXIS;
      ctx.lineWidth = 1.3;

      // x axis (bottom of the plot region, from first to last tick)
      const xb = a.bottom;
      ctx.beginPath();
      ctx.moveTo(xs.getPixelForValue(xTickValues[0]), xb);
      ctx.lineTo(xs.getPixelForValue(xTickValues[xTickValues.length - 1]), xb);
      xTickValues.forEach((v) => {
        const px = xs.getPixelForValue(v);
        ctx.moveTo(px, xb);
        ctx.lineTo(px, xb + TICK);
      });
      ctx.stroke();

      // n label
      ctx.fillStyle = BLUE;
      ctx.font = `20px ${FONT}`;
      ctx.textAlign = "center";
      ctx.textBaseline = "alphabetic";
      ctx.fillText("n", (a.left + a.right) / 2, xb + 15.5);

      if (col === 0) {
        // x tick labels
        ctx.fillStyle = "#000";
        ctx.font = `14.5px ${FONT}`;
        xTickValues.forEach((v, i) => {
          ctx.fillText(xTickLabels[i], xs.getPixelForValue(v), xb + 34.2);
        });

        // y axis
        const tv = row === 0 ? peTickValues : row === 1 ? rmseTickValues : cpTickValues;
        const tl = row === 0 ? peTickLabels : row === 1 ? rmseTickLabels : cpTickLabels;
        ctx.beginPath();
        ctx.moveTo(a.left, ys.getPixelForValue(tv[0]));
        ctx.lineTo(a.left, ys.getPixelForValue(tv[tv.length - 1]));
        tv.forEach((v) => {
          const py = ys.getPixelForValue(v);
          ctx.moveTo(a.left, py);
          ctx.lineTo(a.left - TICK, py);
        });
        ctx.stroke();
        tv.forEach((v, i) => {
          ctx.save();
          ctx.translate(45, ys.getPixelForValue(v));
          ctx.rotate(-Math.PI / 2);
          ctx.textAlign = "center";
          ctx.fillText(tl[i], 0, 0);
          ctx.restore();
        });

        // y title
        ctx.save();
        ctx.fillStyle = GREEN_TXT;
        ctx.font = `19.5px ${FONT}`;
        ctx.translate(26.5, (a.top + a.bottom) / 2);
        ctx.rotate(-Math.PI / 2);
        ctx.textAlign = "center";
        ctx.fillText(rowTitles[row], 0, 0);
        ctx.restore();

        // legends
        ctx.textAlign = "left";
        if (row === 0) {
          const ys0 = [183, 202, 221];
          ctx.font = `15.7px ${FONT}`;
          drawMarker(ctx, "cross", 133, ys0[0], 4.6, BLUE, false, 1.5);
          drawMarker(ctx, "circle", 133, ys0[1], 4.0, RED, true, 1);
          drawMarker(ctx, "triangle", 133, ys0[2], 5.2, GREEN_MARK, true, 1);
          ctx.fillStyle = "#000";
          peLegendLabels.forEach((lab, i) => ctx.fillText(lab, 148, ys0[i] + 5));
        } else {
          const y0 = LEGEND_TOP[row];
          const step = 16.7;
          if (row === 2) {
            // white legend frame (overwrites the lines it crosses)
            ctx.save();
            ctx.strokeStyle = "#FFFFFF";
            ctx.lineWidth = 1.6;
            ctx.beginPath();
            ctx.moveTo(140, 326);
            ctx.lineTo(140, y0 - 16);
            ctx.lineTo(257, y0 - 16);
            ctx.lineTo(257, 326);
            ctx.stroke();
            ctx.restore();
          }
          ctx.font = `13.8px ${FONT}`;
          const rows: any[] = [];
          rows.push({ text: groupHeaders[0] });
          origStyles.forEach((st, i) => rows.push({ text: seriesLabels[i], st }));
          rows.push({ text: groupHeaders[1] });
          sanStyles.forEach((st, i) => rows.push({ text: seriesLabels[i], st }));
          rows.forEach((r, i) => {
            const yy = y0 + i * step;
            if (r.st) {
              ctx.save();
              ctx.strokeStyle = r.st.color;
              ctx.lineWidth = r.st.lw;
              ctx.setLineDash(r.st.dash);
              ctx.beginPath();
              ctx.moveTo(145, yy);
              ctx.lineTo(172, yy);
              ctx.stroke();
              ctx.restore();
              drawMarker(ctx, r.st.shape, 158.5, yy, r.st.r + (r.st.shape === "circle" && r.st.fill && r.st.r > 2.5 ? 0.4 : 0), r.st.color, r.st.fill, 1.2);
            }
            ctx.fillStyle = "#000";
            ctx.fillText(r.text, 183, yy + 4.5);
          });
        }
      }

      // panel titles
      if (row === 0) {
        ctx.textAlign = "left";
        ctx.font = `20px ${FONT}`;
        ctx.fillStyle = BLUE;
        ctx.fillText(methodLabels[col], TITLE_X[col][0], 25);
        ctx.fillStyle = GREEN_TXT;
        ctx.fillText(epsLabels[col], TITLE_X[col][1], 26.5);
      }
      ctx.restore();
    },
  };
}

function buildConfig(row: number, col: number): any {
  return {
    type: "scatter",
    data: { datasets: buildDatasets(row, col) },
    options: {
      responsive: false,
      maintainAspectRatio: false,
      animation: false,
      events: [],
      layout: { padding: PAD },
      plugins: { legend: { display: false }, tooltip: { enabled: false }, title: { display: false } },
      scales: {
        x: { type: "linear", min: 32, max: 518, display: false },
        y: { type: "linear", min: Y_RANGE[row][0], max: Y_RANGE[row][1], display: false },
      },
    },
    plugins: [makePlugin(row, col)],
  };
}

function Panel({ row, col }: { row: number; col: number }) {
  const ref = useRef<HTMLCanvasElement | null>(null);
  useEffect(() => {
    if (!ref.current) return;
    const chart = new Chart(ref.current, buildConfig(row, col));
    return () => chart.destroy();
  }, [row, col]);
  return (
    <canvas
      ref={ref}
      width={PANEL_W}
      height={PANEL_H}
      style={{ position: "absolute", left: col * PANEL_W, top: ROW_TOP[row], width: PANEL_W, height: PANEL_H }}
    />
  );
}

export default function App() {
  const panels: { row: number; col: number }[] = [];
  for (let r = 0; r < 3; r++) for (let c = 0; c < 6; c++) panels.push({ row: r, col: c });
  return (
    <div style={{ position: "absolute", left: 0, top: 0, width: 1718, height: 1132, overflow: "hidden", background: "#fff" }}>
      {panels.map((p) => (
        <Panel key={`${p.row}-${p.col}`} row={p.row} col={p.col} />
      ))}
    </div>
  );
}
